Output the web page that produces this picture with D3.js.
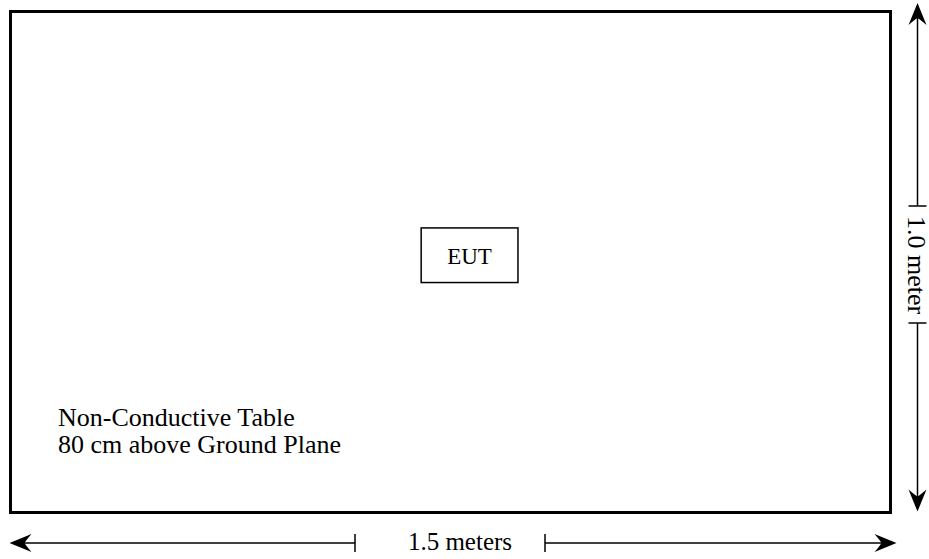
<!DOCTYPE html>
<html>
<head>
<meta charset="utf-8">
<script src="https://cdn.jsdelivr.net/npm/d3@7"></script>
<style>
  body { margin: 0; background: #fff; }
  text { font-family: "Liberation Serif", "Times New Roman", serif; fill: #000; }
</style>
</head>
<body>
<div id="diagram"></div>
<script>
// table and EUT sizes in meters
var tableSize = [1.5, 1.0];
var eutBox = [0.70, 0.432, 0.865, 0.541]; // x0, y0, x1, y1 (meters)
var eutLabel = "EUT";
var tableLabel = ["Non-Conductive Table", "80 cm above Ground Plane"];
var widthLabel = "1.5 meters";
var heightLabel = "1.0 meter";

var svgWidth = 929;
var svgHeight = 559;

var svg = d3.select("#diagram").append("svg")
    .attr("width", svgWidth)
    .attr("height", svgHeight);

// meters -> pixels
var xScale = d3.scaleLinear().domain([0, tableSize[0]]).range([10.5, 890.5]);
var yScale = d3.scaleLinear().domain([0, tableSize[1]]).range([11.5, 512.5]);

// table outline
svg.append("rect")
    .attr("x", xScale(0))
    .attr("y", yScale(0))
    .attr("width", xScale(tableSize[0]) - xScale(0))
    .attr("height", yScale(tableSize[1]) - yScale(0))
    .attr("fill", "none")
    .attr("stroke", "#000")
    .attr("stroke-width", 3);

// EUT box
svg.append("rect")
    .attr("x", xScale(eutBox[0]))
    .attr("y", yScale(eutBox[1]))
    .attr("width", xScale(eutBox[2]) - xScale(eutBox[0]))
    .attr("height", yScale(eutBox[3]) - yScale(eutBox[1]))
    .attr("fill", "none")
    .attr("stroke", "#000")
    .attr("stroke-width", 1.5);

svg.append("text")
    .attr("x", (xScale(eutBox[0]) + xScale(eutBox[2])) / 2)
    .attr("y", 264)
    .attr("text-anchor", "middle")
    .attr("font-size", 23)
    .text(eutLabel);

// table label
svg.append("text")
    .attr("x", 58)
    .attr("y", 426)
    .attr("font-size", 26)
    .selectAll("tspan")
    .data(tableLabel)
    .enter()
    .append("tspan")
    .attr("x", 58)
    .attr("dy", (d, i) => i === 0 ? 0 : 27)
    .text(d => d);

// arrowhead pointing along +x, tip at origin
var headPath = "M0,0 L-22,-9 Q-16,-2 -15,0 Q-16,2 -22,9 Z";

function arrowHead(x, y, angle) {
    svg.append("path")
        .attr("d", headPath)
        .attr("transform", `translate(${x},${y}) rotate(${angle})`)
        .attr("fill", "#000");
}

function tick(x1, y1, x2, y2) {
    svg.append("line")
        .attr("x1", x1).attr("y1", y1)
        .attr("x2", x2).attr("y2", y2)
        .attr("stroke", "#000")
        .attr("stroke-width", 1.5);
}

// horizontal dimension (width)
var hy = 543;
var hLeft = xScale(0) - 1, hRight = xScale(tableSize[0]) + 6;
tick(hLeft + 4, hy, 355, hy);
tick(355, hy - 9, 355, hy + 9);
tick(545, hy, hRight - 4, hy);
tick(545, hy - 9, 545, hy + 9);
arrowHead(hLeft, hy, 180);
arrowHead(hRight, hy, 0);

svg.append("text")
    .attr("x", 460)
    .attr("y", 550)
    .attr("text-anchor", "middle")
    .attr("font-size", 25)
    .text(widthLabel);

// vertical dimension (height)
var vx = 917.5;
var vTop = 3, vBottom = yScale(tableSize[1]) - 1;
tick(vx, vTop + 4, vx, 206);
tick(vx - 9, 206, vx + 9, 206);
tick(vx, 323, vx, vBottom - 4);
tick(vx - 9, 323, vx + 9, 323);
arrowHead(vx, vTop, -90);
arrowHead(vx, vBottom, 90);

svg.append("text")
    .attr("transform", `translate(${vx - 10},265) rotate(90)`)
    .attr("text-anchor", "middle")
    .attr("font-size", 26)
    .text(heightLabel);
</script>
</body>
</html>
